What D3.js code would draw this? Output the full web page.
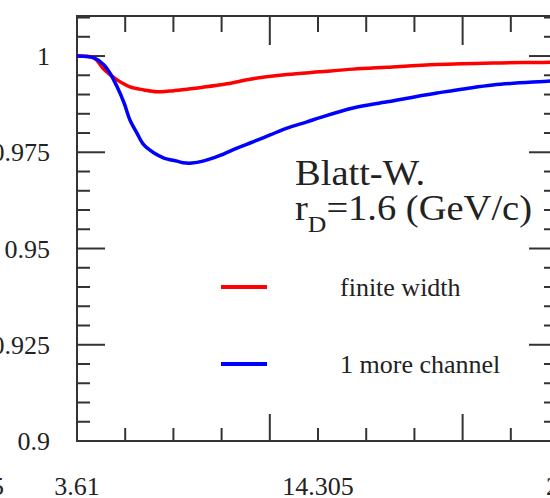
<!DOCTYPE html>
<html>
<head>
<meta charset="utf-8">
<script src="https://cdn.jsdelivr.net/npm/d3@7"></script>
<style>
  body { margin: 0; background: #fff; }
  svg { display: block; }
  text { font-family: "Liberation Serif", "DejaVu Serif", serif; fill: #222; }
</style>
</head>
<body>
<div class="chart"></div>
<script>
// curve values
var finite_x = [3.61, 4.36, 4.81, 5.39, 5.96, 6.58, 7.16, 7.74, 8.49, 9.20, 10.27, 11.42, 12.93, 14.39, 15.86, 17.37, 19.59, 22.07, 24.60, 24.91];
var finite_y = [1.0, 0.9995, 0.9965, 0.9938, 0.9920, 0.9912, 0.9907, 0.9909, 0.9914, 0.9919, 0.9928, 0.9941, 0.9952, 0.9959, 0.9966, 0.9971, 0.9978, 0.9982, 0.9984, 0.9985];

var channel_x = [3.61, 4.36, 4.81, 5.07, 5.39, 5.70, 5.96, 6.27, 6.58, 7.03, 7.47, 8.05, 8.31, 8.71, 9.20, 9.96, 10.71, 11.42, 12.18, 12.93, 13.82, 14.39, 15.86, 17.37, 19.59, 22.07, 24.60, 24.91];
var channel_y = [1.0, 0.9995, 0.9977, 0.9956, 0.9920, 0.9878, 0.9834, 0.9800, 0.9769, 0.9748, 0.9735, 0.9727, 0.9723, 0.9722, 0.9727, 0.9742, 0.9761, 0.9777, 0.9795, 0.9813, 0.9829, 0.9840, 0.9865, 0.9881, 0.9904, 0.9925, 0.9935, 0.9937];

var series_names = ["finite width", "1 more channel"];
var series_colors = ["#ff0000", "#0000ff"];

// tick labels
var x_labels = [3.61, 14.305, 25];
var x_label_text = ["3.61", "14.305", "25"];
var y_labels = [0.9, 0.925, 0.95, 0.975, 1.0];
var y_label_text = ["0.9", "0.925", "0.95", "0.975", "1"];

var width = 550, height = 498;

var svg = d3.select(".chart")
    .append("svg")
    .attr("width", width)
    .attr("height", height);

// frame goes a bit past the right edge of the window (picture is cropped)
// (don't call it "top": window.top can't be overwritten)
var frame_left = 77, frame_right = 557, frame_top = 16, frame_bottom = 441;

var x = d3.scaleLinear()
    .domain([3.61, 24.91])
    .range([frame_left, frame_right]);

var y = d3.scaleLinear()
    .domain([0.9, 1.0104])
    .range([frame_bottom, frame_top]);

// minor ticks every 2.139 on x, every 0.005 on y
var x_step = 10.695 / 5;
var x_ticks = d3.range(0, 11).map(function (k) { return { v: 3.61 + k * x_step, major: (k % 4 == 0 && k > 0) }; });
var y_ticks = d3.range(0, 23).map(function (k) { return { v: 0.9 + k * 0.005, major: (k % 5 == 0) }; });

var frame_color = "#333";
var g = svg.append("g");

// x ticks, bottom and top, pointing inward
g.selectAll(".xtb")
    .data(x_ticks)
    .enter()
    .append("line")
    .attr("x1", function (d) { return x(d.v); })
    .attr("x2", function (d) { return x(d.v); })
    .attr("y1", frame_bottom)
    .attr("y2", function (d) { return frame_bottom - (d.major ? 27 : 13); })
    .style("stroke", frame_color)
    .style("stroke-width", 2);

g.selectAll(".xtt")
    .data(x_ticks)
    .enter()
    .append("line")
    .attr("x1", function (d) { return x(d.v); })
    .attr("x2", function (d) { return x(d.v); })
    .attr("y1", frame_top)
    .attr("y2", function (d) { return frame_top + (d.major ? 29 : 16); })
    .style("stroke", frame_color)
    .style("stroke-width", 2);

// y ticks, left and right
g.selectAll(".ytl")
    .data(y_ticks)
    .enter()
    .append("line")
    .attr("x1", frame_left)
    .attr("x2", function (d) { return frame_left + (d.major ? 28 : 13); })
    .attr("y1", function (d) { return y(d.v); })
    .attr("y2", function (d) { return y(d.v); })
    .style("stroke", frame_color)
    .style("stroke-width", 2);

g.selectAll(".ytr")
    .data(y_ticks)
    .enter()
    .append("line")
    .attr("x1", frame_right)
    .attr("x2", function (d) { return frame_right - (d.major ? 28 : 13); })
    .attr("y1", function (d) { return y(d.v); })
    .attr("y2", function (d) { return y(d.v); })
    .style("stroke", frame_color)
    .style("stroke-width", 2);

g.append("rect")
    .attr("x", frame_left)
    .attr("y", frame_top)
    .attr("width", frame_right - frame_left)
    .attr("height", frame_bottom - frame_top)
    .style("fill", "none")
    .style("stroke", frame_color)
    .style("stroke-width", 2);

// tick labels
svg.selectAll(".ylab")
    .data(y_labels)
    .enter()
    .append("text")
    .attr("x", 50)
    .attr("y", function (d) { return y(d) + 9; })
    .attr("text-anchor", "end")
    .style("font-size", "26px")
    .text(function (d, i) { return y_label_text[i]; });

svg.selectAll(".xlab")
    .data(x_labels)
    .enter()
    .append("text")
    .attr("x", function (d) { return x(d); })
    .attr("y", 495)
    .attr("text-anchor", "middle")
    .style("font-size", "26px")
    .text(function (d, i) { return x_label_text[i]; });

// leftover label from the neighbouring panel, cut by the crop
svg.append("text")
    .attr("x", 4)
    .attr("y", 495)
    .attr("text-anchor", "end")
    .style("font-size", "26px")
    .text("25");

// curves (catmull-rom keeps the start of the dip smooth)
var line = d3.line()
    .x(function (d) { return x(d[0]); })
    .y(function (d) { return y(d[1]); })
    .curve(d3.curveCatmullRom.alpha(0.5));

var series = [d3.zip(finite_x, finite_y), d3.zip(channel_x, channel_y)];

svg.selectAll(".curve")
    .data(series)
    .enter()
    .append("path")
    .attr("d", line)
    .style("fill", "none")
    .style("stroke", function (d, i) { return series_colors[i]; })
    .style("stroke-width", 3.5);

// annotation, a little wider than Liberation Serif
var note = svg.append("g")
    .attr("transform", "translate(295,0) scale(1.07,1)");

note.append("text")
    .attr("x", 0)
    .attr("y", 185)
    .style("font-size", "36px")
    .text("Blatt-W.");

var note2 = note.append("text")
    .attr("x", 0)
    .attr("y", 220)
    .style("font-size", "36px");
note2.append("tspan").text("r");
note2.append("tspan").attr("dy", 12).style("font-size", "24px").text("D");
note2.append("tspan").attr("dy", -12).text("=1.6 (GeV/c)");

// legend
var legend_y = [287, 364];
svg.selectAll(".legline")
    .data(series_names)
    .enter()
    .append("line")
    .attr("x1", 221)
    .attr("x2", 267)
    .attr("y1", function (d, i) { return legend_y[i]; })
    .attr("y2", function (d, i) { return legend_y[i]; })
    .style("stroke", function (d, i) { return series_colors[i]; })
    .style("stroke-width", 4);

svg.selectAll(".legtext")
    .data(series_names)
    .enter()
    .append("text")
    .attr("x", 340)
    .attr("y", function (d, i) { return legend_y[i] + 9; })
    .style("font-size", "26px")
    .text(function (d) { return d; });
</script>
</body>
</html>
